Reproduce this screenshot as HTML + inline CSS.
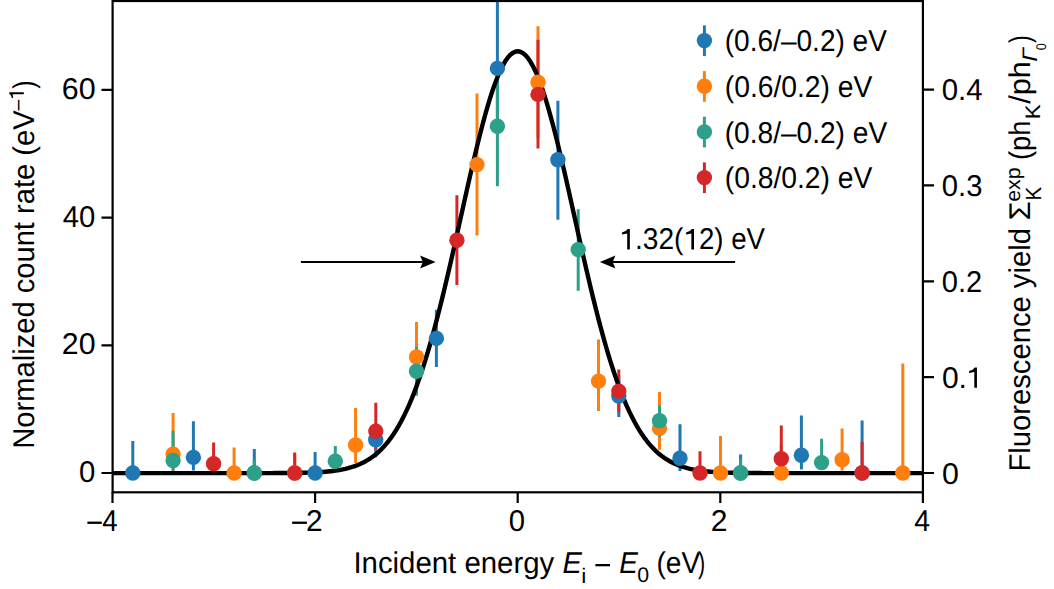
<!DOCTYPE html>
<html><head><meta charset="utf-8"><style>
html,body{margin:0;padding:0;background:#fff;}
body{width:1054px;height:589px;overflow:hidden;font-family:"Liberation Sans",sans-serif;}
svg{display:block;}
</style></head><body>
<svg width="1054" height="589" viewBox="0 0 1054 589">
<defs><clipPath id="cp"><rect x="112.5" y="1" width="810.4" height="491.3"/></clipPath></defs>
<g clip-path="url(#cp)">
<g stroke="#1f77b4" stroke-width="3.0">
<line x1="132.8" y1="441.1" x2="132.8" y2="473"/>
<line x1="193.4" y1="421.3" x2="193.4" y2="470.5"/>
<line x1="254.3" y1="449" x2="254.3" y2="473"/>
<line x1="315.1" y1="452.1" x2="315.1" y2="473"/>
<line x1="375.7" y1="423" x2="375.7" y2="457.2"/>
<line x1="436.4" y1="309.8" x2="436.4" y2="367.1"/>
<line x1="497.4" y1="1" x2="497.4" y2="130"/>
<line x1="557.9" y1="100.7" x2="557.9" y2="219.8"/>
<line x1="618.8" y1="375" x2="618.8" y2="417.1"/>
<line x1="680" y1="424.2" x2="680" y2="470.9"/>
<line x1="740.6" y1="454.6" x2="740.6" y2="473"/>
<line x1="801.4" y1="415.5" x2="801.4" y2="469.4"/>
<line x1="862.1" y1="420.5" x2="862.1" y2="473"/>
</g>
<g stroke="#ff7f0e" stroke-width="3.0">
<line x1="173.1" y1="413.1" x2="173.1" y2="473"/>
<line x1="234.1" y1="447.6" x2="234.1" y2="473"/>
<line x1="294.7" y1="452.4" x2="294.7" y2="473"/>
<line x1="355.6" y1="408" x2="355.6" y2="463.1"/>
<line x1="416.5" y1="322" x2="416.5" y2="392"/>
<line x1="477" y1="93.6" x2="477" y2="235.4"/>
<line x1="538" y1="26.3" x2="538" y2="138"/>
<line x1="598.5" y1="339.5" x2="598.5" y2="410.9"/>
<line x1="659.5" y1="391.9" x2="659.5" y2="449.7"/>
<line x1="720.5" y1="436" x2="720.5" y2="473"/>
<line x1="781.3" y1="445" x2="781.3" y2="473"/>
<line x1="842.1" y1="428.5" x2="842.1" y2="470.6"/>
<line x1="902.8" y1="363.4" x2="902.8" y2="473"/>
</g>
<g stroke="#2ca089" stroke-width="3.0">
<line x1="173.1" y1="430.7" x2="173.1" y2="470.5"/>
<line x1="254.3" y1="459.5" x2="254.3" y2="473"/>
<line x1="335.3" y1="446.1" x2="335.3" y2="468"/>
<line x1="416.5" y1="346.7" x2="416.5" y2="395.7"/>
<line x1="497.4" y1="66.4" x2="497.4" y2="186.2"/>
<line x1="578.2" y1="209.3" x2="578.2" y2="290.7"/>
<line x1="659.5" y1="405.5" x2="659.5" y2="436.9"/>
<line x1="740.6" y1="458.7" x2="740.6" y2="473"/>
<line x1="821.6" y1="438.7" x2="821.6" y2="470"/>
</g>
<g stroke="#d62728" stroke-width="3.0">
<line x1="213.6" y1="442.4" x2="213.6" y2="472"/>
<line x1="294.7" y1="452.7" x2="294.7" y2="473"/>
<line x1="375.8" y1="402.8" x2="375.8" y2="449.4"/>
<line x1="456.9" y1="195.3" x2="456.9" y2="284.9"/>
<line x1="538" y1="39.8" x2="538" y2="148.5"/>
<line x1="618.8" y1="369.4" x2="618.8" y2="412.3"/>
<line x1="700" y1="451.2" x2="700" y2="473"/>
<line x1="781.3" y1="425.5" x2="781.3" y2="470"/>
<line x1="862.1" y1="442.1" x2="862.1" y2="473"/>
</g>
<path d="M112.50,473.12 L115.03,473.12 L117.57,473.12 L120.10,473.12 L122.63,473.12 L125.16,473.12 L127.70,473.12 L130.23,473.12 L132.76,473.12 L135.29,473.12 L137.83,473.12 L140.36,473.12 L142.89,473.12 L145.42,473.12 L147.96,473.12 L150.49,473.12 L153.02,473.12 L155.55,473.12 L158.09,473.12 L160.62,473.12 L163.15,473.12 L165.68,473.12 L168.22,473.12 L170.75,473.12 L173.28,473.12 L175.81,473.12 L178.35,473.12 L180.88,473.12 L183.41,473.12 L185.94,473.12 L188.48,473.12 L191.01,473.12 L193.54,473.12 L196.07,473.12 L198.61,473.12 L201.14,473.12 L203.67,473.12 L206.20,473.12 L208.74,473.12 L211.27,473.12 L213.80,473.12 L216.33,473.12 L218.87,473.12 L221.40,473.12 L223.93,473.12 L226.46,473.12 L229.00,473.12 L231.53,473.12 L234.06,473.12 L236.59,473.12 L239.13,473.12 L241.66,473.12 L244.19,473.12 L246.72,473.11 L249.26,473.11 L251.79,473.11 L254.32,473.11 L256.85,473.11 L259.39,473.11 L261.92,473.10 L264.45,473.10 L266.98,473.09 L269.52,473.09 L272.05,473.08 L274.58,473.07 L277.11,473.06 L279.65,473.05 L282.18,473.04 L284.71,473.02 L287.24,473.00 L289.78,472.98 L292.31,472.95 L294.84,472.92 L297.37,472.89 L299.91,472.84 L302.44,472.79 L304.97,472.73 L307.50,472.66 L310.04,472.58 L312.57,472.49 L315.10,472.38 L317.63,472.25 L320.17,472.10 L322.70,471.93 L325.23,471.74 L327.76,471.52 L330.30,471.26 L332.83,470.97 L335.36,470.64 L337.89,470.26 L340.43,469.83 L342.96,469.34 L345.49,468.80 L348.02,468.18 L350.56,467.48 L353.09,466.70 L355.62,465.82 L358.15,464.85 L360.69,463.75 L363.22,462.54 L365.75,461.19 L368.28,459.70 L370.82,458.05 L373.35,456.24 L375.88,454.24 L378.41,452.04 L380.95,449.64 L383.48,447.01 L386.01,444.15 L388.54,441.04 L391.08,437.66 L393.61,434.01 L396.14,430.07 L398.67,425.82 L401.21,421.25 L403.74,416.36 L406.27,411.13 L408.80,405.55 L411.34,399.62 L413.87,393.32 L416.40,386.65 L418.93,379.61 L421.47,372.20 L424.00,364.42 L426.53,356.27 L429.06,347.75 L431.60,338.88 L434.13,329.67 L436.66,320.13 L439.19,310.28 L441.73,300.14 L444.26,289.73 L446.79,279.08 L449.32,268.21 L451.86,257.17 L454.39,245.98 L456.92,234.68 L459.45,223.32 L461.99,211.93 L464.52,200.57 L467.05,189.27 L469.58,178.09 L472.12,167.08 L474.65,156.28 L477.18,145.75 L479.71,135.54 L482.25,125.71 L484.78,116.29 L487.31,107.34 L489.84,98.91 L492.38,91.05 L494.91,83.79 L497.44,77.18 L499.97,71.25 L502.51,66.04 L505.04,61.58 L507.57,57.90 L510.10,55.01 L512.64,52.93 L515.17,51.68 L517.70,51.26 L520.23,51.68 L522.76,52.93 L525.30,55.01 L527.83,57.90 L530.36,61.58 L532.90,66.04 L535.43,71.25 L537.96,77.18 L540.49,83.79 L543.03,91.05 L545.56,98.91 L548.09,107.34 L550.62,116.29 L553.15,125.71 L555.69,135.54 L558.22,145.75 L560.75,156.28 L563.29,167.08 L565.82,178.09 L568.35,189.27 L570.88,200.57 L573.42,211.93 L575.95,223.32 L578.48,234.68 L581.01,245.98 L583.55,257.17 L586.08,268.21 L588.61,279.08 L591.14,289.73 L593.68,300.14 L596.21,310.28 L598.74,320.13 L601.27,329.67 L603.81,338.88 L606.34,347.75 L608.87,356.27 L611.40,364.42 L613.94,372.20 L616.47,379.61 L619.00,386.65 L621.53,393.32 L624.07,399.62 L626.60,405.55 L629.13,411.13 L631.66,416.36 L634.20,421.25 L636.73,425.82 L639.26,430.07 L641.79,434.01 L644.33,437.66 L646.86,441.04 L649.39,444.15 L651.92,447.01 L654.46,449.64 L656.99,452.04 L659.52,454.24 L662.05,456.24 L664.59,458.05 L667.12,459.70 L669.65,461.19 L672.18,462.54 L674.72,463.75 L677.25,464.85 L679.78,465.82 L682.31,466.70 L684.85,467.48 L687.38,468.18 L689.91,468.80 L692.44,469.34 L694.98,469.83 L697.51,470.26 L700.04,470.64 L702.57,470.97 L705.11,471.26 L707.64,471.52 L710.17,471.74 L712.70,471.93 L715.24,472.10 L717.77,472.25 L720.30,472.38 L722.83,472.49 L725.37,472.58 L727.90,472.66 L730.43,472.73 L732.96,472.79 L735.50,472.84 L738.03,472.89 L740.56,472.92 L743.09,472.95 L745.62,472.98 L748.16,473.00 L750.69,473.02 L753.22,473.04 L755.75,473.05 L758.29,473.06 L760.82,473.07 L763.35,473.08 L765.88,473.09 L768.42,473.09 L770.95,473.10 L773.48,473.10 L776.02,473.11 L778.55,473.11 L781.08,473.11 L783.61,473.11 L786.15,473.11 L788.68,473.11 L791.21,473.12 L793.74,473.12 L796.28,473.12 L798.81,473.12 L801.34,473.12 L803.87,473.12 L806.40,473.12 L808.94,473.12 L811.47,473.12 L814.00,473.12 L816.54,473.12 L819.07,473.12 L821.60,473.12 L824.13,473.12 L826.66,473.12 L829.20,473.12 L831.73,473.12 L834.26,473.12 L836.80,473.12 L839.33,473.12 L841.86,473.12 L844.39,473.12 L846.92,473.12 L849.46,473.12 L851.99,473.12 L854.52,473.12 L857.06,473.12 L859.59,473.12 L862.12,473.12 L864.65,473.12 L867.19,473.12 L869.72,473.12 L872.25,473.12 L874.78,473.12 L877.32,473.12 L879.85,473.12 L882.38,473.12 L884.91,473.12 L887.45,473.12 L889.98,473.12 L892.51,473.12 L895.04,473.12 L897.58,473.12 L900.11,473.12 L902.64,473.12 L905.17,473.12 L907.70,473.12 L910.24,473.12 L912.77,473.12 L915.30,473.12 L917.84,473.12 L920.37,473.12 L922.90,473.12" fill="none" stroke="#000" stroke-width="4.4" stroke-linejoin="round"/>
<g fill="#1f77b4">
<circle cx="132.8" cy="473.0" r="7.7"/>
<circle cx="193.4" cy="457.4" r="7.7"/>
<circle cx="254.3" cy="473" r="7.7"/>
<circle cx="315.1" cy="473" r="7.7"/>
<circle cx="375.7" cy="439.7" r="7.7"/>
<circle cx="436.4" cy="338.4" r="7.7"/>
<circle cx="497.4" cy="68.4" r="7.7"/>
<circle cx="557.9" cy="159.8" r="7.7"/>
<circle cx="618.8" cy="396" r="7.7"/>
<circle cx="680" cy="458.2" r="7.7"/>
<circle cx="740.6" cy="473" r="7.7"/>
<circle cx="801.4" cy="455.3" r="7.7"/>
<circle cx="862.1" cy="473" r="7.7"/>
</g>
<g fill="#ff7f0e">
<circle cx="173.1" cy="454.3" r="7.7"/>
<circle cx="234.1" cy="473" r="7.7"/>
<circle cx="294.7" cy="473" r="7.7"/>
<circle cx="355.6" cy="445" r="7.7"/>
<circle cx="416.5" cy="357" r="7.7"/>
<circle cx="477" cy="164.6" r="7.7"/>
<circle cx="538" cy="82.2" r="7.7"/>
<circle cx="598.5" cy="381.1" r="7.7"/>
<circle cx="659.5" cy="428.4" r="7.7"/>
<circle cx="720.5" cy="473" r="7.7"/>
<circle cx="781.3" cy="473" r="7.7"/>
<circle cx="842.1" cy="459.7" r="7.7"/>
<circle cx="902.8" cy="473" r="7.7"/>
</g>
<g fill="#2ca089">
<circle cx="173.1" cy="460.5" r="7.7"/>
<circle cx="254.3" cy="473" r="7.7"/>
<circle cx="335.3" cy="461.3" r="7.7"/>
<circle cx="416.5" cy="371.2" r="7.7"/>
<circle cx="497.4" cy="126.3" r="7.7"/>
<circle cx="578.2" cy="249.6" r="7.7"/>
<circle cx="659.5" cy="420.8" r="7.7"/>
<circle cx="740.6" cy="473" r="7.7"/>
<circle cx="821.6" cy="462.6" r="7.7"/>
</g>
<g fill="#d62728">
<circle cx="213.6" cy="463.7" r="7.7"/>
<circle cx="294.7" cy="473" r="7.7"/>
<circle cx="375.8" cy="431.1" r="7.7"/>
<circle cx="456.9" cy="240.2" r="7.7"/>
<circle cx="538" cy="94.4" r="7.7"/>
<circle cx="618.8" cy="391.1" r="7.7"/>
<circle cx="700" cy="473" r="7.7"/>
<circle cx="781.3" cy="458.7" r="7.7"/>
<circle cx="862.1" cy="473" r="7.7"/>
</g>
</g>
<rect x="112.6" y="1" width="810.3" height="491.3" fill="none" stroke="#000" stroke-width="2.2"/>
<path d="M101.5,473.00H112.6 M101.5,345.30H112.6 M101.5,217.60H112.6 M101.5,89.90H112.6 M922.9,473.00H934 M922.9,377.14H934 M922.9,281.28H934 M922.9,185.42H934 M922.9,89.56H934 M112.50,492.3V503 M315.10,492.3V503 M517.70,492.3V503 M720.30,492.3V503 M922.90,492.3V503" stroke="#000" stroke-width="2.2" fill="none"/>
<rect x="87.4" y="521.6" width="14.4" height="2.3"/>
<rect x="292.1" y="521.6" width="14.8" height="2.3"/>
<rect x="595.4" y="564" width="14.6" height="2.3"/>
<g font-family="Liberation Sans" fill="#000" text-rendering="geometricPrecision" style="font-kerning:none">
<text transform="translate(61.76,99.00) scale(1.0139,1)" font-size="30">60</text>
<text transform="translate(62.83,226.60) scale(0.9743,1)" font-size="30">40</text>
<text transform="translate(61.78,354.30) scale(1.0102,1)" font-size="30">20</text>
<text transform="translate(78.96,482.10) scale(0.9762,1)" font-size="30">0</text>
<text transform="translate(941.75,100.06) scale(0.9785,1)" font-size="30">0.4</text>
<text transform="translate(941.86,195.92) scale(0.9741,1)" font-size="30">0.3</text>
<text transform="translate(941.86,291.78) scale(0.9686,1)" font-size="30">0.2</text>
<text transform="translate(941.93,387.64)" font-size="30">0.</text>
<path transform="translate(976.95,387.69)" d="M0,-20.3L0,0L-2.65,0L-2.65,-15.8Q-5.2,-15.1 -7.9,-14.8L-7.9,-16.8Q-4.2,-17.3 -2.1,-20.3Z"/>
<text transform="translate(941.92,483.50) scale(1.0111,1)" font-size="30">0</text>
<text transform="translate(102.37,530.70) scale(0.9195,1)" font-size="30">4</text>
<text transform="translate(305.90,530.90) scale(0.9951,1)" font-size="30">2</text>
<text transform="translate(508.86,530.60) scale(0.9762,1)" font-size="30">0</text>
<text transform="translate(710.69,530.70) scale(1.0024,1)" font-size="30">2</text>
<text transform="translate(914.25,530.70) scale(0.9459,1)" font-size="30">4</text>
<text transform="translate(353.39,572.90) scale(0.9792,1)" font-size="30">Incident energy</text>
<text transform="translate(562.51,572.80) scale(0.9656,1)" font-size="30" font-style="italic">E</text>
<text transform="translate(581.28,582.60) scale(1.0836,1)" font-size="21">i</text>
<text transform="translate(619.24,572.80) scale(0.9295,1)" font-size="30" font-style="italic">E</text>
<text transform="translate(637.27,582.40) scale(1.0161,1)" font-size="21">0</text>
<text transform="translate(656.46,572.90) scale(0.9353,1)" font-size="30">(eV</text>
<text transform="translate(697.97,572.90) scale(0.7166,1)" font-size="30">)</text>
<text transform="translate(34.10,448.69) rotate(-90) scale(0.9708,1)" font-size="30">Normalized count rate (eV</text>
<text transform="translate(23.80,110.50) rotate(-90) scale(0.9170,1)" font-size="21">–</text>
<path transform="translate(23.80,92.30) rotate(-90) scale(0.714)" d="M0,-20.3L0,0L-2.65,0L-2.65,-15.8Q-5.2,-15.1 -7.9,-14.8L-7.9,-16.8Q-4.2,-17.3 -2.1,-20.3Z"/>
<text transform="translate(34.10,88.75) rotate(-90) scale(0.8298,1)" font-size="30">)</text>
<text transform="translate(1030.40,471.49) rotate(-90) scale(0.9730,1)" font-size="30">Fluorescence yield</text>
<text transform="translate(1030.40,220.43) rotate(-90) scale(1.0332,1)" font-size="30">Σ</text>
<text transform="translate(1041.00,200.59) rotate(-90) scale(0.9349,1)" font-size="22">K</text>
<text transform="translate(1020.40,201.80) rotate(-90) scale(1.0479,1)" font-size="20.3">exp</text>
<text transform="translate(1030.40,159.99) rotate(-90) scale(0.9077,1)" font-size="30">(ph</text>
<text transform="translate(1039.50,119.33) rotate(-90) scale(1.0624,1)" font-size="21">K</text>
<text transform="translate(1030.40,103.80) rotate(-90) scale(1.0187,1)" font-size="30">/ph</text>
<text transform="translate(1037.40,61.75) rotate(-90) scale(1.1590,1)" font-size="21" font-style="italic">Γ</text>
<text transform="translate(1045.80,50.30) rotate(-90) scale(0.9115,1)" font-size="14">0</text>
<text transform="translate(1030.40,42.93) rotate(-90) scale(0.7669,1)" font-size="30">)</text>
<text transform="translate(724.76,51.20) scale(0.9350,1)" font-size="30">(0.6/–0.2) eV</text>
<text transform="translate(724.75,96.95) scale(0.9421,1)" font-size="30">(0.6/0.2) eV</text>
<text transform="translate(724.76,142.70) scale(0.9362,1)" font-size="30">(0.8/–0.2) eV</text>
<text transform="translate(724.75,188.45) scale(0.9421,1)" font-size="30">(0.8/0.2) eV</text>
<text transform="translate(635.03,249.40) scale(0.9369,1)" font-size="30">.32(</text>
<text transform="translate(698.91,249.40) scale(0.9220,1)" font-size="30">2) eV</text>
<path transform="translate(629.85,249.40)" d="M0,-20.3L0,0L-2.65,0L-2.65,-15.8Q-5.2,-15.1 -7.9,-14.8L-7.9,-16.8Q-4.2,-17.3 -2.1,-20.3Z"/>
<path transform="translate(694.00,249.40)" d="M0,-20.3L0,0L-2.65,0L-2.65,-15.8Q-5.2,-15.1 -7.9,-14.8L-7.9,-16.8Q-4.2,-17.3 -2.1,-20.3Z"/>
</g>
<line x1="704.4" y1="25.4" x2="704.4" y2="56.1" stroke="#1f77b4" stroke-width="3.0"/>
<circle cx="704.4" cy="40.6" r="7.7" fill="#1f77b4"/>
<line x1="704.4" y1="71.1" x2="704.4" y2="101.8" stroke="#ff7f0e" stroke-width="3.0"/>
<circle cx="704.4" cy="86.3" r="7.7" fill="#ff7f0e"/>
<line x1="704.4" y1="116.7" x2="704.4" y2="147.4" stroke="#2ca089" stroke-width="3.0"/>
<circle cx="704.4" cy="131.9" r="7.7" fill="#2ca089"/>
<line x1="704.4" y1="162.4" x2="704.4" y2="193.1" stroke="#d62728" stroke-width="3.0"/>
<circle cx="704.4" cy="177.6" r="7.7" fill="#d62728"/>
<line x1="300.9" y1="262.0" x2="422.8" y2="262.0" stroke="#000" stroke-width="1.9"/><path d="M435.6,262.0 L420.1,255.6 L422.8,262.0 L420.1,268.4 Z"/>
<line x1="735.1" y1="262.0" x2="612.7" y2="262.0" stroke="#000" stroke-width="1.9"/><path d="M599.9,262.0 L615.4,255.6 L612.7,262.0 L615.4,268.4 Z"/>
</svg>
</body></html>
